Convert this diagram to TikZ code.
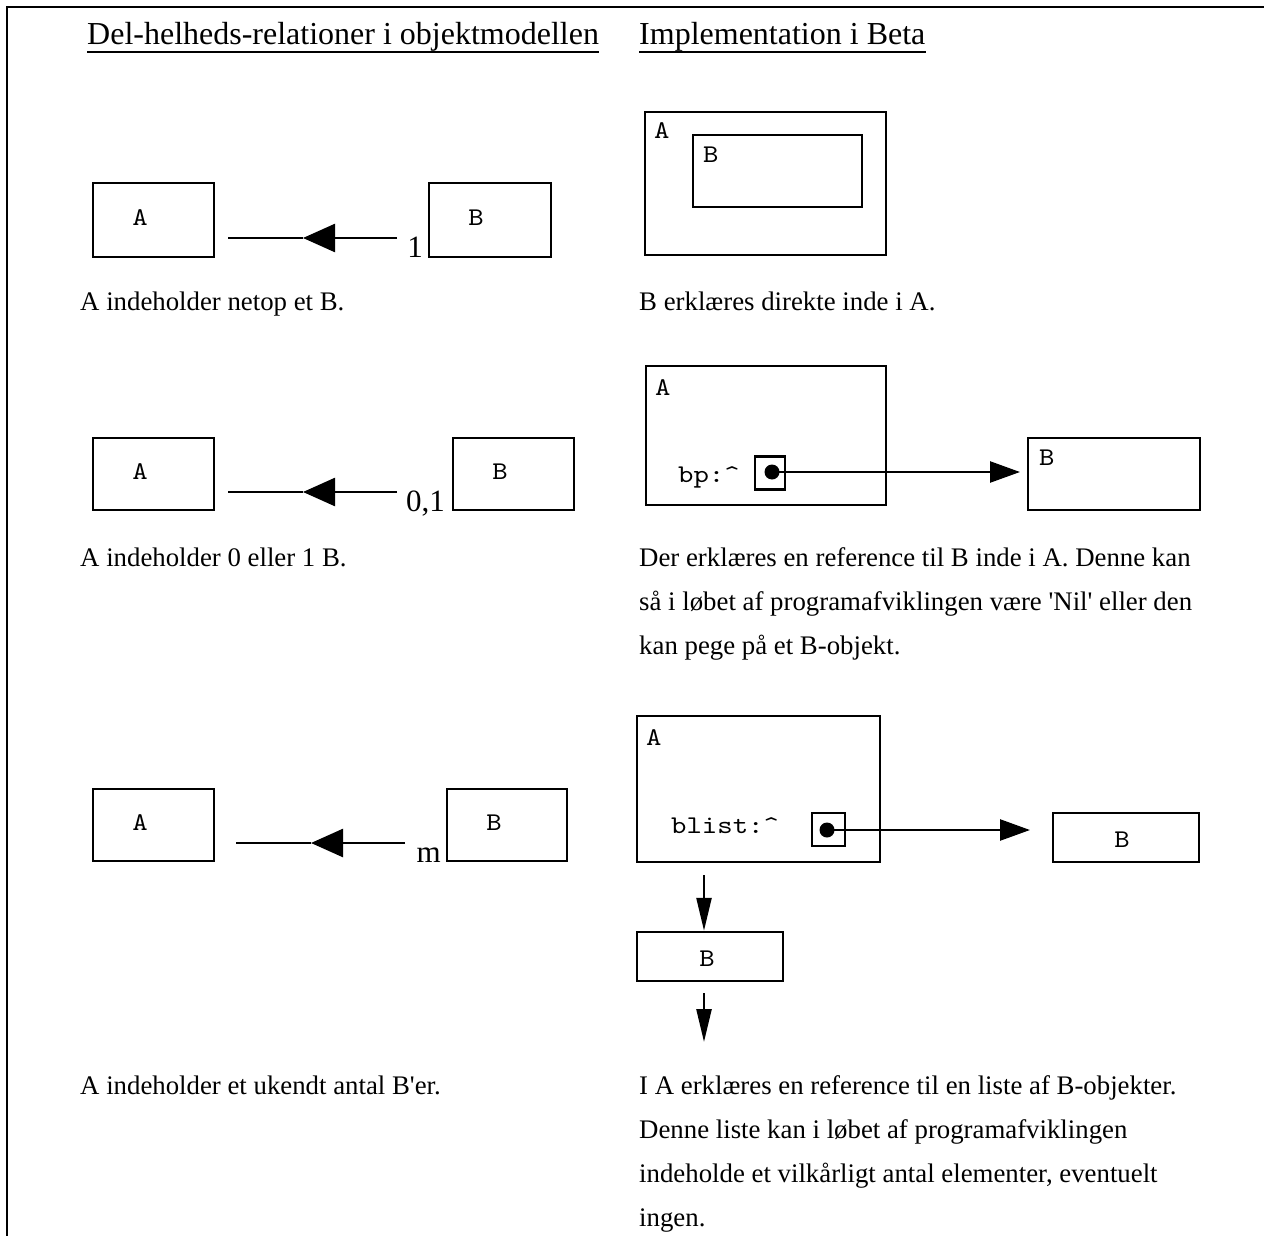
\documentclass[tikz,border=0pt]{standalone}
\usepackage{fontspec}
\setmainfont{Liberation Serif}
\newfontfamily\capfont{Liberation Serif}
\newfontfamily\codefont{lmmono10-regular.otf}[FakeStretch=1.15]
\usetikzlibrary{arrows.meta}
\begin{document}
\begin{tikzpicture}[x=1pt,y=-1pt,
  box/.style={draw, line width=2.5pt, inner sep=0pt},
  mono/.style={font=\fontsize{25.5}{30}\selectfont\codefont, inner sep=0pt},
  caption/.style={font=\fontsize{26.8}{32}\selectfont\capfont, inner sep=0pt, anchor=base west},
  head/.style={font=\fontsize{32}{36}\selectfont, inner sep=0pt, anchor=base west},
  mult/.style={font=\fontsize{31}{36}\selectfont, inner sep=0pt, anchor=base east},
  conn/.style={line width=2.5pt},
  bigtip/.style={-{Triangle[length=32pt,width=28pt]}},
  smalltip/.style={-{Triangle[length=30pt,width=21pt]}},
  downtip/.style={-{Triangle[length=33pt,width=15pt]}},
  refdot/.style={circle, fill, inner sep=0pt, minimum size=15pt}
]
\useasboundingbox (0,0) rectangle (1264,1236);

% page frame (top and left edges)
\draw[line width=2.5pt] (1264,7) -- (7,7) -- (7,1236);

% column headings
\node[head] (h1) at (87,45) {Del-helheds-relationer i objektmodellen};
\node[head] (h2) at (639,45) {Implementation i Beta};
\draw[line width=2.2pt] ([yshift=-7pt]h1.base west) -- ([yshift=-7pt]h1.base east);
\draw[line width=2.2pt] ([yshift=-7pt]h2.base west) -- ([yshift=-7pt]h2.base east);

% ---------- row 1: exactly one B ----------
\node[box, minimum width=121pt, minimum height=74pt] (a1) at (153.5,220) {};
\node[mono] (a1t) at (140,218) {A};
\node[box, minimum width=122pt, minimum height=74pt] (b1) at (490,220) {};
\node[mono] (b1t) at (476,218) {B};
\coordinate (l1s) at (228,238);
\coordinate (l1t) at (303,238);
\coordinate (l1e) at (397,238);
\draw[conn, bigtip] (l1e) -- (l1t);
\draw[conn] (l1t) -- (l1s);
\node[mult] (m1) at (423,257) {1};

\node[box, minimum width=241pt, minimum height=143pt] (ra1) at (765.5,183.5) {};
\node[mono, anchor=base west] (ra1t) at (654,139) {A};
\node[box, minimum width=169pt, minimum height=72pt] (rb1) at (777.5,171) {};
\node[mono, anchor=base west] (rb1t) at (703,163) {B};

\node[caption] (c1l) at (80,310) {A indeholder netop et B.};
\node[caption] (c1r) at (639,310) {B erklæres direkte inde i A.};

% ---------- row 2: zero or one B ----------
\node[box, minimum width=121pt, minimum height=72pt] (a2) at (153.5,474) {};
\node[mono] (a2t) at (140,472) {A};
\node[box, minimum width=121pt, minimum height=72pt] (b2) at (513.5,474) {};
\node[mono] (b2t) at (500,472) {B};
\coordinate (l2s) at (228,492);
\coordinate (l2t) at (303,492);
\coordinate (l2e) at (397,492);
\draw[conn, bigtip] (l2e) -- (l2t);
\draw[conn] (l2t) -- (l2s);
\node[mult] (m2) at (445,511) {0,1};

\node[box, minimum width=240pt, minimum height=139pt] (ra2) at (766,435.5) {};
\node[mono, anchor=base west] (ra2t) at (655,395) {A};
\node[mono, anchor=base west] (bp) at (678,482) {bp:\char`\^};
\node[box, minimum width=30pt, minimum height=33pt] (sq2) at (770,473) {};
\node[refdot] (dot2) at (772,472) {};
\node[box, minimum width=172pt, minimum height=72pt] (rb2) at (1114,474) {};
\node[mono, anchor=base west] (rb2t) at (1039,465) {B};
\coordinate (t2) at (1020,472);
\draw[conn, smalltip] (dot2.center) -- (t2);

\node[caption] (c2l) at (80,566) {A indeholder 0 eller 1 B.};
\node[caption] (c2r1) at (639,566) {Der erklæres en reference til B inde i A. Denne kan};
\node[caption] (c2r2) at (639,610) {så i løbet af programafviklingen være 'Nil' eller den};
\node[caption] (c2r3) at (639,654) {kan pege på et B-objekt.};

% ---------- row 3: any number of B ----------
\node[box, minimum width=121pt, minimum height=72pt] (a3) at (153.5,825) {};
\node[mono] (a3t) at (140,823) {A};
\node[box, minimum width=120pt, minimum height=72pt] (b3) at (507,825) {};
\node[mono] (b3t) at (494,823) {B};
\coordinate (l3s) at (236,843);
\coordinate (l3t) at (311,843);
\coordinate (l3e) at (405,843);
\draw[conn, bigtip] (l3e) -- (l3t);
\draw[conn] (l3t) -- (l3s);
\node[mult] (m3) at (441,862) {m};

\node[box, minimum width=243pt, minimum height=146pt] (ra3) at (758.5,789) {};
\node[mono, anchor=base west] (ra3t) at (646,745) {A};
\node[mono, anchor=base west] (bl) at (671,833) {blist:\char`\^};
\node[box, minimum width=33pt, minimum height=33pt] (sq3) at (828.5,829.5) {};
\node[refdot] (dot3) at (827,830) {};
\node[box, minimum width=146pt, minimum height=49pt] (rb3) at (1126,837.5) {};
\node[mono] (rb3t) at (1122,840) {B};
\coordinate (t3) at (1030,830);
\draw[conn, smalltip] (dot3.center) -- (t3);

\node[box, minimum width=146pt, minimum height=49pt] (lb3) at (710,956.5) {};
\node[mono] (lb3t) at (707,959) {B};
\coordinate (d1s) at (704,875);
\coordinate (d2s) at (704,993);
\coordinate (d2e) at (704,1042);
\draw[conn, downtip] (d1s) -- (lb3.north -| d1s);
\draw[conn, downtip] (d2s) -- (d2e);

\node[caption] (c3l) at (80,1094) {A indeholder et ukendt antal B'er.};
\node[caption] (c3r1) at (639,1094) {I A erklæres en reference til en liste af B-objekter.};
\node[caption] (c3r2) at (639,1138) {Denne liste kan i løbet af programafviklingen};
\node[caption] (c3r3) at (639,1182) {indeholde et vilkårligt antal elementer, eventuelt};
\node[caption] (c3r4) at (639,1226) {ingen.};
\end{tikzpicture}
\end{document}
